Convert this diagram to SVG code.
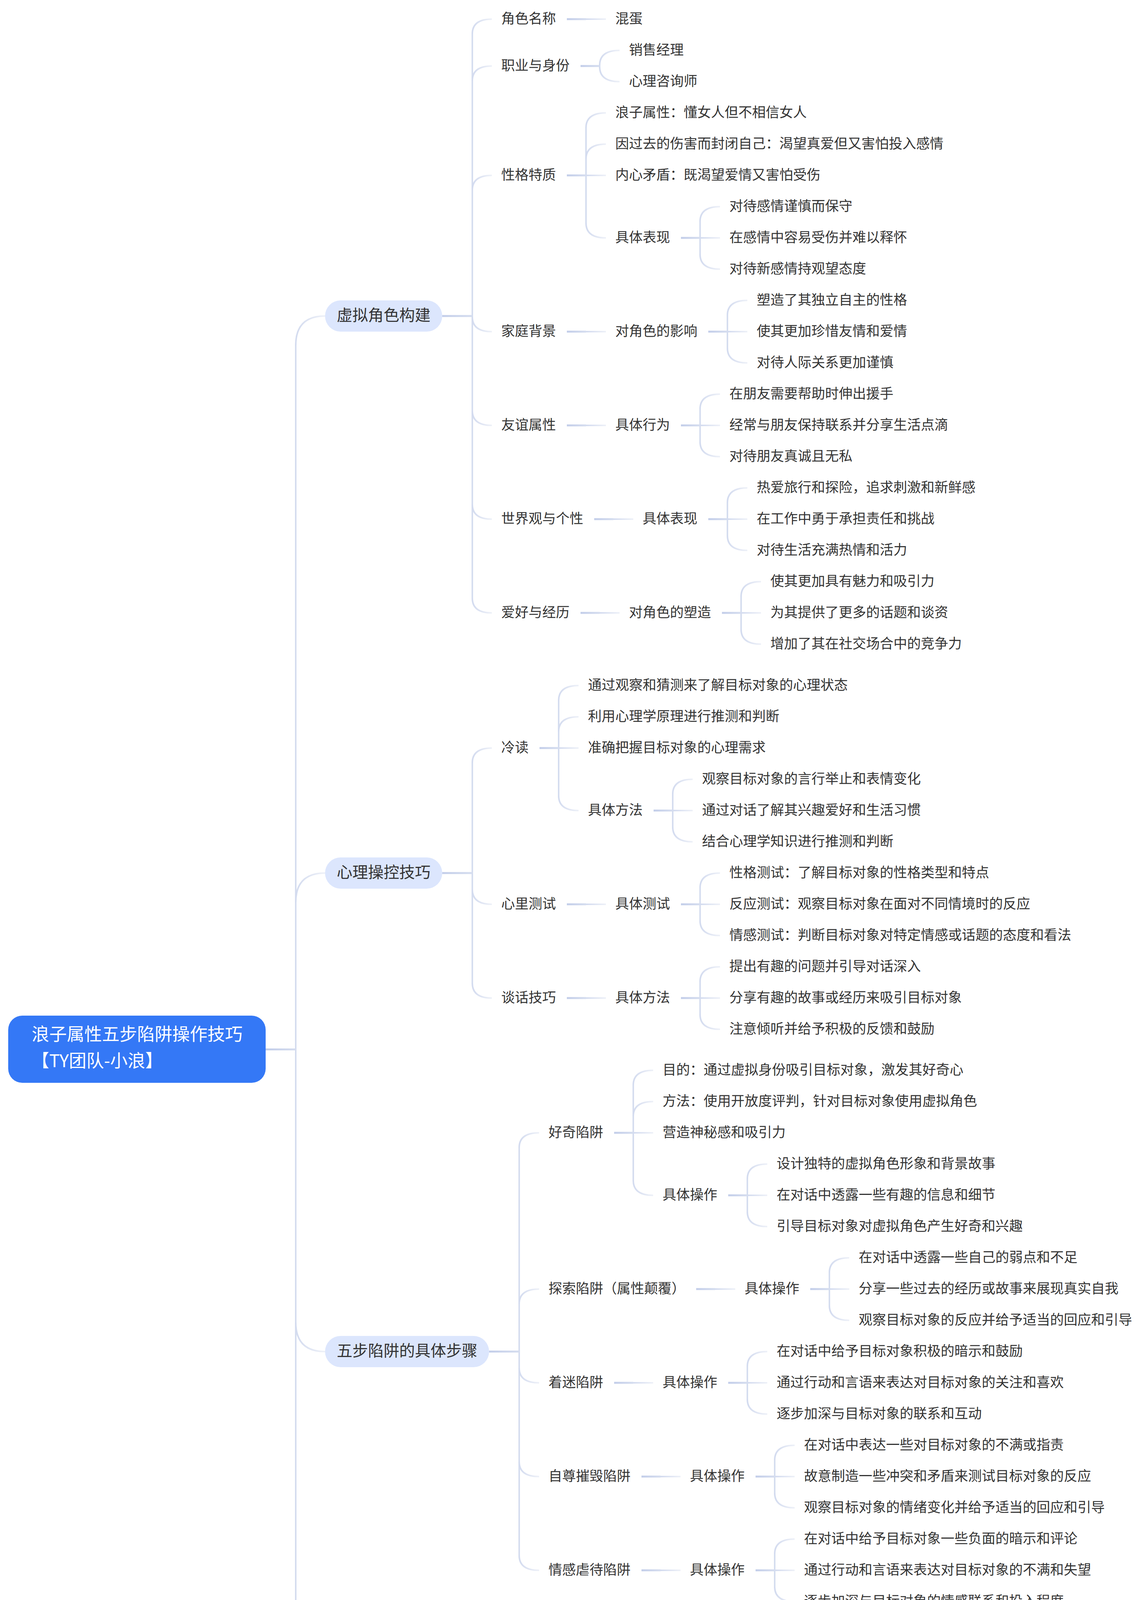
<svg xmlns="http://www.w3.org/2000/svg" width="2936" height="4891" viewBox="0 0 2936 4891">
<defs>
<linearGradient id="gc" x1="0" y1="0" x2="1" y2="0"><stop offset="0" stop-color="#D3DBEF"/><stop offset="1" stop-color="#EEF1F8"/></linearGradient>
<linearGradient id="gs" x1="0" y1="0" x2="1" y2="0"><stop offset="0" stop-color="#C2CDE9"/><stop offset="1" stop-color="#D5DDEF"/></linearGradient>
<style>
.t{font-family:"Noto Sans CJK SC","Noto Sans",sans-serif;font-size:35px;fill:#333333;dominant-baseline:central}
.t1{font-family:"Noto Sans CJK SC","Noto Sans",sans-serif;font-size:40px;fill:#333333;dominant-baseline:central;text-anchor:middle}
.t0{font-family:"Noto Sans CJK SC","Noto Sans",sans-serif;font-size:45px;fill:#FFFFFF;dominant-baseline:central}
.pill{fill:#DCE6FD}
.rootbox{fill:#3478F6}
.tr{stroke:#D5DDEF;stroke-width:4;fill:none}
.c{stroke:url(#gc);stroke-width:4;fill:none}
.s{fill:url(#gs)}
.g{fill:url(#gc)}
</style>
</defs>
<rect width="2936" height="4891" fill="#FFFFFF"/>
<g id="connectors">
<rect class="s" x="680" y="2684" width="77" height="5"/>
<line class="tr" x1="757" y1="884" x2="757" y2="4493"/>
<path class="c" d="M757,884 Q757,809 832,809"/>
<path class="c" d="M757,2310 Q757,2235 832,2235"/>
<path class="c" d="M757,3385 Q757,3460 832,3460"/>
<path class="c" d="M757,4493 Q757,4568 832,4568"/>

<rect class="s" x="1132" y="806.5" width="77" height="5"/>
<line class="tr" x1="1209" y1="87" x2="1209" y2="1531"/>
<path class="c" d="M1209,87 Q1209,49 1259,49"/>
<path class="c" d="M1209,207 Q1209,169 1259,169"/>
<path class="c" d="M1209,487 Q1209,449 1259,449"/>
<path class="c" d="M1209,811 Q1209,849 1259,849"/>
<path class="c" d="M1209,1051 Q1209,1089 1259,1089"/>
<path class="c" d="M1209,1291 Q1209,1329 1259,1329"/>
<path class="c" d="M1209,1531 Q1209,1569 1259,1569"/>
<rect class="s" x="1451" y="46.5" width="49" height="5"/><rect class="g" x="1500" y="47" width="51" height="4"/>
<rect class="s" x="1486" y="166.5" width="49" height="5"/>
<line class="tr" x1="1535" y1="167" x2="1535" y2="171"/>
<path class="c" d="M1535,167 Q1535,129 1586,129"/>
<path class="c" d="M1535,171 Q1535,209 1586,209"/>
<rect class="s" x="1451" y="446.5" width="49" height="5"/>
<line class="tr" x1="1500" y1="327" x2="1500" y2="571"/>
<path class="c" d="M1500,327 Q1500,289 1551,289"/>
<path class="c" d="M1500,407 Q1500,369 1551,369"/>
<rect class="g" x="1500" y="447" width="51" height="4"/>
<path class="c" d="M1500,571 Q1500,609 1551,609"/>
<rect class="s" x="1743" y="606.5" width="49" height="5"/>
<line class="tr" x1="1792" y1="567" x2="1792" y2="651"/>
<path class="c" d="M1792,567 Q1792,529 1843,529"/>
<rect class="g" x="1792" y="607" width="51" height="4"/>
<path class="c" d="M1792,651 Q1792,689 1843,689"/>
<rect class="s" x="1451" y="846.5" width="49" height="5"/><rect class="g" x="1500" y="847" width="51" height="4"/>
<rect class="s" x="1813" y="846.5" width="49" height="5"/>
<line class="tr" x1="1862" y1="807" x2="1862" y2="891"/>
<path class="c" d="M1862,807 Q1862,769 1913,769"/>
<rect class="g" x="1862" y="847" width="51" height="4"/>
<path class="c" d="M1862,891 Q1862,929 1913,929"/>
<rect class="s" x="1451" y="1086.5" width="49" height="5"/><rect class="g" x="1500" y="1087" width="51" height="4"/>
<rect class="s" x="1743" y="1086.5" width="49" height="5"/>
<line class="tr" x1="1792" y1="1047" x2="1792" y2="1131"/>
<path class="c" d="M1792,1047 Q1792,1009 1843,1009"/>
<rect class="g" x="1792" y="1087" width="51" height="4"/>
<path class="c" d="M1792,1131 Q1792,1169 1843,1169"/>
<rect class="s" x="1521" y="1326.5" width="49" height="5"/><rect class="g" x="1570" y="1327" width="51" height="4"/>
<rect class="s" x="1813" y="1326.5" width="49" height="5"/>
<line class="tr" x1="1862" y1="1287" x2="1862" y2="1371"/>
<path class="c" d="M1862,1287 Q1862,1249 1913,1249"/>
<rect class="g" x="1862" y="1327" width="51" height="4"/>
<path class="c" d="M1862,1371 Q1862,1409 1913,1409"/>
<rect class="s" x="1486" y="1566.5" width="49" height="5"/><rect class="g" x="1535" y="1567" width="51" height="4"/>
<rect class="s" x="1848" y="1566.5" width="49" height="5"/>
<line class="tr" x1="1897" y1="1527" x2="1897" y2="1611"/>
<path class="c" d="M1897,1527 Q1897,1489 1948,1489"/>
<rect class="g" x="1897" y="1567" width="51" height="4"/>
<path class="c" d="M1897,1611 Q1897,1649 1948,1649"/>

<rect class="s" x="1132" y="2232.5" width="77" height="5"/>
<line class="tr" x1="1209" y1="1953" x2="1209" y2="2517"/>
<path class="c" d="M1209,1953 Q1209,1915 1259,1915"/>
<path class="c" d="M1209,2277 Q1209,2315 1259,2315"/>
<path class="c" d="M1209,2517 Q1209,2555 1259,2555"/>
<rect class="s" x="1381" y="1912.5" width="49" height="5"/>
<line class="tr" x1="1430" y1="1793" x2="1430" y2="2037"/>
<path class="c" d="M1430,1793 Q1430,1755 1481,1755"/>
<path class="c" d="M1430,1873 Q1430,1835 1481,1835"/>
<rect class="g" x="1430" y="1913" width="51" height="4"/>
<path class="c" d="M1430,2037 Q1430,2075 1481,2075"/>
<rect class="s" x="1673" y="2072.5" width="49" height="5"/>
<line class="tr" x1="1722" y1="2033" x2="1722" y2="2117"/>
<path class="c" d="M1722,2033 Q1722,1995 1773,1995"/>
<rect class="g" x="1722" y="2073" width="51" height="4"/>
<path class="c" d="M1722,2117 Q1722,2155 1773,2155"/>
<rect class="s" x="1451" y="2312.5" width="49" height="5"/><rect class="g" x="1500" y="2313" width="51" height="4"/>
<rect class="s" x="1743" y="2312.5" width="49" height="5"/>
<line class="tr" x1="1792" y1="2273" x2="1792" y2="2357"/>
<path class="c" d="M1792,2273 Q1792,2235 1843,2235"/>
<rect class="g" x="1792" y="2313" width="51" height="4"/>
<path class="c" d="M1792,2357 Q1792,2395 1843,2395"/>
<rect class="s" x="1451" y="2552.5" width="49" height="5"/><rect class="g" x="1500" y="2553" width="51" height="4"/>
<rect class="s" x="1743" y="2552.5" width="49" height="5"/>
<line class="tr" x1="1792" y1="2513" x2="1792" y2="2597"/>
<path class="c" d="M1792,2513 Q1792,2475 1843,2475"/>
<rect class="g" x="1792" y="2553" width="51" height="4"/>
<path class="c" d="M1792,2597 Q1792,2635 1843,2635"/>

<rect class="s" x="1252" y="3457.5" width="77" height="5"/>
<line class="tr" x1="1329" y1="2938" x2="1329" y2="3982"/>
<path class="c" d="M1329,2938 Q1329,2900 1380,2900"/>
<path class="c" d="M1329,3338 Q1329,3300 1380,3300"/>
<path class="c" d="M1329,3502 Q1329,3540 1380,3540"/>
<path class="c" d="M1329,3742 Q1329,3780 1380,3780"/>
<path class="c" d="M1329,3982 Q1329,4020 1380,4020"/>
<rect class="s" x="1572" y="2897.5" width="49" height="5"/>
<line class="tr" x1="1621" y1="2778" x2="1621" y2="3022"/>
<path class="c" d="M1621,2778 Q1621,2740 1672,2740"/>
<path class="c" d="M1621,2858 Q1621,2820 1672,2820"/>
<rect class="g" x="1621" y="2898" width="51" height="4"/>
<path class="c" d="M1621,3022 Q1621,3060 1672,3060"/>
<rect class="s" x="1864" y="3057.5" width="49" height="5"/>
<line class="tr" x1="1913" y1="3018" x2="1913" y2="3102"/>
<path class="c" d="M1913,3018 Q1913,2980 1964,2980"/>
<rect class="g" x="1913" y="3058" width="51" height="4"/>
<path class="c" d="M1913,3102 Q1913,3140 1964,3140"/>
<rect class="s" x="1782" y="3297.5" width="49" height="5"/><rect class="g" x="1831" y="3298" width="51" height="4"/>
<rect class="s" x="2074" y="3297.5" width="49" height="5"/>
<line class="tr" x1="2123" y1="3258" x2="2123" y2="3342"/>
<path class="c" d="M2123,3258 Q2123,3220 2174,3220"/>
<rect class="g" x="2123" y="3298" width="51" height="4"/>
<path class="c" d="M2123,3342 Q2123,3380 2174,3380"/>
<rect class="s" x="1572" y="3537.5" width="49" height="5"/><rect class="g" x="1621" y="3538" width="51" height="4"/>
<rect class="s" x="1864" y="3537.5" width="49" height="5"/>
<line class="tr" x1="1913" y1="3498" x2="1913" y2="3582"/>
<path class="c" d="M1913,3498 Q1913,3460 1964,3460"/>
<rect class="g" x="1913" y="3538" width="51" height="4"/>
<path class="c" d="M1913,3582 Q1913,3620 1964,3620"/>
<rect class="s" x="1642" y="3777.5" width="49" height="5"/><rect class="g" x="1691" y="3778" width="51" height="4"/>
<rect class="s" x="1934" y="3777.5" width="49" height="5"/>
<line class="tr" x1="1983" y1="3738" x2="1983" y2="3822"/>
<path class="c" d="M1983,3738 Q1983,3700 2034,3700"/>
<rect class="g" x="1983" y="3778" width="51" height="4"/>
<path class="c" d="M1983,3822 Q1983,3860 2034,3860"/>
<rect class="s" x="1642" y="4017.5" width="49" height="5"/><rect class="g" x="1691" y="4018" width="51" height="4"/>
<rect class="s" x="1934" y="4017.5" width="49" height="5"/>
<line class="tr" x1="1983" y1="3978" x2="1983" y2="4062"/>
<path class="c" d="M1983,3978 Q1983,3940 2034,3940"/>
<rect class="g" x="1983" y="4018" width="51" height="4"/>
<path class="c" d="M1983,4062 Q1983,4100 2034,4100"/>

<rect class="s" x="1052" y="4565.5" width="77" height="5"/>
<line class="tr" x1="1129" y1="4406" x2="1129" y2="4730"/>
<path class="c" d="M1129,4406 Q1129,4368 1180,4368"/>
<path class="c" d="M1129,4730 Q1129,4768 1180,4768"/>
<rect class="s" x="1510" y="4365.5" width="45" height="5"/>
<line class="tr" x1="1555" y1="4246" x2="1555" y2="4490"/>
<path class="c" d="M1555,4246 Q1555,4208 1606,4208"/>
<path class="c" d="M1555,4326 Q1555,4288 1606,4288"/>
<rect class="g" x="1555" y="4366" width="51" height="4"/>
<path class="c" d="M1555,4490 Q1555,4528 1606,4528"/>
<rect class="s" x="1798" y="4525.5" width="49" height="5"/>
<line class="tr" x1="1847" y1="4486" x2="1847" y2="4570"/>
<path class="c" d="M1847,4486 Q1847,4448 1898,4448"/>
<rect class="g" x="1847" y="4526" width="51" height="4"/>
<path class="c" d="M1847,4570 Q1847,4608 1898,4608"/>
<rect class="s" x="1407" y="4765.5" width="49" height="5"/><rect class="g" x="1456" y="4766" width="51" height="4"/>
<rect class="s" x="1699" y="4765.5" width="49" height="5"/>
<line class="tr" x1="1748" y1="4726" x2="1748" y2="4810"/>
<path class="c" d="M1748,4726 Q1748,4688 1799,4688"/>
<rect class="g" x="1748" y="4766" width="51" height="4"/>
<path class="c" d="M1748,4810 Q1748,4848 1799,4848"/>
</g>

<g id="root">
<rect class="rootbox" x="21" y="2600" width="659" height="172" rx="36" ry="36"/>
<text class="t0" x="81" y="2644">浪子属性五步陷阱操作技巧</text>
<text class="t0" x="81" y="2712">【TY团队-小浪】</text>
</g>

<g id="n-xuni"><rect class="pill" x="832" y="769" width="300" height="80" rx="40"/><text class="t1" x="982" y="803.5">虚拟角色构建</text></g>
<g id="n-juese"><text class="t" x="1283" y="44">角色名称</text></g>
<g id="n-hundan"><text class="t" x="1575" y="44">混蛋</text></g>
<g id="n-zhiye"><text class="t" x="1283" y="164">职业与身份</text></g>
<g id="n-xiaoshou"><text class="t" x="1610" y="124">销售经理</text></g>
<g id="n-xinli"><text class="t" x="1610" y="204">心理咨询师</text></g>
<g id="n-xingge"><text class="t" x="1283" y="444">性格特质</text></g>
<g id="n-xg1"><text class="t" x="1575" y="284">浪子属性：懂女人但不相信女人</text></g>
<g id="n-xg2"><text class="t" x="1575" y="364">因过去的伤害而封闭自己：渴望真爱但又害怕投入感情</text></g>
<g id="n-xg3"><text class="t" x="1575" y="444">内心矛盾：既渴望爱情又害怕受伤</text></g>
<g id="n-xg4"><text class="t" x="1575" y="604">具体表现</text></g>
<g id="n-xg41"><text class="t" x="1867" y="524">对待感情谨慎而保守</text></g>
<g id="n-xg42"><text class="t" x="1867" y="604">在感情中容易受伤并难以释怀</text></g>
<g id="n-xg43"><text class="t" x="1867" y="684">对待新感情持观望态度</text></g>
<g id="n-jiating"><text class="t" x="1283" y="844">家庭背景</text></g>
<g id="n-jt1"><text class="t" x="1575" y="844">对角色的影响</text></g>
<g id="n-jt11"><text class="t" x="1937" y="764">塑造了其独立自主的性格</text></g>
<g id="n-jt12"><text class="t" x="1937" y="844">使其更加珍惜友情和爱情</text></g>
<g id="n-jt13"><text class="t" x="1937" y="924">对待人际关系更加谨慎</text></g>
<g id="n-youyi"><text class="t" x="1283" y="1084">友谊属性</text></g>
<g id="n-yy1"><text class="t" x="1575" y="1084">具体行为</text></g>
<g id="n-yy11"><text class="t" x="1867" y="1004">在朋友需要帮助时伸出援手</text></g>
<g id="n-yy12"><text class="t" x="1867" y="1084">经常与朋友保持联系并分享生活点滴</text></g>
<g id="n-yy13"><text class="t" x="1867" y="1164">对待朋友真诚且无私</text></g>
<g id="n-shijie"><text class="t" x="1283" y="1324">世界观与个性</text></g>
<g id="n-sj1"><text class="t" x="1645" y="1324">具体表现</text></g>
<g id="n-sj11"><text class="t" x="1937" y="1244">热爱旅行和探险，追求刺激和新鲜感</text></g>
<g id="n-sj12"><text class="t" x="1937" y="1324">在工作中勇于承担责任和挑战</text></g>
<g id="n-sj13"><text class="t" x="1937" y="1404">对待生活充满热情和活力</text></g>
<g id="n-aihao"><text class="t" x="1283" y="1564">爱好与经历</text></g>
<g id="n-ah1"><text class="t" x="1610" y="1564">对角色的塑造</text></g>
<g id="n-ah11"><text class="t" x="1972" y="1484">使其更加具有魅力和吸引力</text></g>
<g id="n-ah12"><text class="t" x="1972" y="1564">为其提供了更多的话题和谈资</text></g>
<g id="n-ah13"><text class="t" x="1972" y="1644">增加了其在社交场合中的竞争力</text></g>

<g id="n-caokong"><rect class="pill" x="832" y="2195" width="300" height="80" rx="40"/><text class="t1" x="982" y="2229.5">心理操控技巧</text></g>
<g id="n-lengdu"><text class="t" x="1283" y="1910">冷读</text></g>
<g id="n-ld1"><text class="t" x="1505" y="1750">通过观察和猜测来了解目标对象的心理状态</text></g>
<g id="n-ld2"><text class="t" x="1505" y="1830">利用心理学原理进行推测和判断</text></g>
<g id="n-ld3"><text class="t" x="1505" y="1910">准确把握目标对象的心理需求</text></g>
<g id="n-ld4"><text class="t" x="1505" y="2070">具体方法</text></g>
<g id="n-ld41"><text class="t" x="1797" y="1990">观察目标对象的言行举止和表情变化</text></g>
<g id="n-ld42"><text class="t" x="1797" y="2070">通过对话了解其兴趣爱好和生活习惯</text></g>
<g id="n-ld43"><text class="t" x="1797" y="2150">结合心理学知识进行推测和判断</text></g>
<g id="n-ceshi"><text class="t" x="1283" y="2310">心里测试</text></g>
<g id="n-cs1"><text class="t" x="1575" y="2310">具体测试</text></g>
<g id="n-cs11"><text class="t" x="1867" y="2230">性格测试：了解目标对象的性格类型和特点</text></g>
<g id="n-cs12"><text class="t" x="1867" y="2310">反应测试：观察目标对象在面对不同情境时的反应</text></g>
<g id="n-cs13"><text class="t" x="1867" y="2390">情感测试：判断目标对象对特定情感或话题的态度和看法</text></g>
<g id="n-tanhua"><text class="t" x="1283" y="2550">谈话技巧</text></g>
<g id="n-th1"><text class="t" x="1575" y="2550">具体方法</text></g>
<g id="n-th11"><text class="t" x="1867" y="2470">提出有趣的问题并引导对话深入</text></g>
<g id="n-th12"><text class="t" x="1867" y="2550">分享有趣的故事或经历来吸引目标对象</text></g>
<g id="n-th13"><text class="t" x="1867" y="2630">注意倾听并给予积极的反馈和鼓励</text></g>

<g id="n-wubu"><rect class="pill" x="832" y="3420" width="420" height="80" rx="40"/><text class="t1" x="1042" y="3454.5">五步陷阱的具体步骤</text></g>
<g id="n-haoqi"><text class="t" x="1404" y="2895">好奇陷阱</text></g>
<g id="n-hq1"><text class="t" x="1696" y="2735">目的：通过虚拟身份吸引目标对象，激发其好奇心</text></g>
<g id="n-hq2"><text class="t" x="1696" y="2815">方法：使用开放度评判，针对目标对象使用虚拟角色</text></g>
<g id="n-hq3"><text class="t" x="1696" y="2895">营造神秘感和吸引力</text></g>
<g id="n-hq4"><text class="t" x="1696" y="3055">具体操作</text></g>
<g id="n-hq41"><text class="t" x="1988" y="2975">设计独特的虚拟角色形象和背景故事</text></g>
<g id="n-hq42"><text class="t" x="1988" y="3055">在对话中透露一些有趣的信息和细节</text></g>
<g id="n-hq43"><text class="t" x="1988" y="3135">引导目标对象对虚拟角色产生好奇和兴趣</text></g>
<g id="n-tansuo"><text class="t" x="1404" y="3295">探索陷阱（属性颠覆）</text></g>
<g id="n-ts1"><text class="t" x="1906" y="3295">具体操作</text></g>
<g id="n-ts11"><text class="t" x="2198" y="3215">在对话中透露一些自己的弱点和不足</text></g>
<g id="n-ts12"><text class="t" x="2198" y="3295">分享一些过去的经历或故事来展现真实自我</text></g>
<g id="n-ts13"><text class="t" x="2198" y="3375">观察目标对象的反应并给予适当的回应和引导</text></g>
<g id="n-zhaomi"><text class="t" x="1404" y="3535">着迷陷阱</text></g>
<g id="n-zm1"><text class="t" x="1696" y="3535">具体操作</text></g>
<g id="n-zm11"><text class="t" x="1988" y="3455">在对话中给予目标对象积极的暗示和鼓励</text></g>
<g id="n-zm12"><text class="t" x="1988" y="3535">通过行动和言语来表达对目标对象的关注和喜欢</text></g>
<g id="n-zm13"><text class="t" x="1988" y="3615">逐步加深与目标对象的联系和互动</text></g>
<g id="n-zizun"><text class="t" x="1404" y="3775">自尊摧毁陷阱</text></g>
<g id="n-zz1"><text class="t" x="1766" y="3775">具体操作</text></g>
<g id="n-zz11"><text class="t" x="2058" y="3695">在对话中表达一些对目标对象的不满或指责</text></g>
<g id="n-zz12"><text class="t" x="2058" y="3775">故意制造一些冲突和矛盾来测试目标对象的反应</text></g>
<g id="n-zz13"><text class="t" x="2058" y="3855">观察目标对象的情绪变化并给予适当的回应和引导</text></g>
<g id="n-nuedai"><text class="t" x="1404" y="4015">情感虐待陷阱</text></g>
<g id="n-nd1"><text class="t" x="1766" y="4015">具体操作</text></g>
<g id="n-nd11"><text class="t" x="2058" y="3935">在对话中给予目标对象一些负面的暗示和评论</text></g>
<g id="n-nd12"><text class="t" x="2058" y="4015">通过行动和言语来表达对目标对象的不满和失望</text></g>
<g id="n-nd13"><text class="t" x="2058" y="4095">逐步加深与目标对象的情感联系和投入程度</text></g>

<g id="n-qita"><rect class="pill" x="832" y="4528" width="220" height="80" rx="40"/><text class="t1" x="942" y="4562.5">其他技巧</text></g>
<g id="n-maosheng"><text class="t" x="1204" y="4363">猫绳理论和TJ神功</text></g>
<g id="n-ms1"><text class="t" x="1630" y="4203">在目标对象好奇时，通过偷换概念、顾左右而言他等方式保持神秘感</text></g>
<g id="n-ms2"><text class="t" x="1630" y="4283">利用心理学原理来掌握对话的节奏和氛围</text></g>
<g id="n-ms3"><text class="t" x="1630" y="4363">增强目标对象对虚拟角色的好奇心和探索欲</text></g>
<g id="n-ms4"><text class="t" x="1630" y="4523">具体应用</text></g>
<g id="n-ms41"><text class="t" x="1922" y="4443">在对话中故意留下一些悬念和疑问</text></g>
<g id="n-ms42"><text class="t" x="1922" y="4523">通过转移话题或提出新的问题来引导对话深入</text></g>
<g id="n-ms43"><text class="t" x="1922" y="4603">注意保持神秘感和吸引力，避免过度透露信息</text></g>
<g id="n-weilai"><text class="t" x="1204" y="4763">未来展开图</text></g>
<g id="n-wl1"><text class="t" x="1531" y="4763">具体描述</text></g>
<g id="n-wl11"><text class="t" x="1823" y="4683">描述与虚拟角色共同度过的美好时光和经历</text></g>
<g id="n-wl12"><text class="t" x="1823" y="4763">强调虚拟角色的优点和魅力，以及与之相处的快乐和满足</text></g>
<g id="n-wl13"><text class="t" x="1823" y="4843">鼓励目标对象积极投入感情并期待未来的美好发展</text></g>
</svg>
